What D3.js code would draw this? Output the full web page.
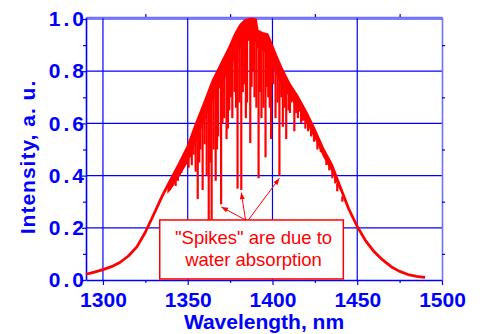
<!DOCTYPE html>
<html>
<head>
<meta charset="utf-8">
<script src="https://cdn.jsdelivr.net/npm/d3@7"></script>
<style>
  body { margin: 0; background: #fff; }
  svg { display: block; font-family: Arial, "Liberation Sans", sans-serif; }
</style>
</head>
<body>
<div id="chart"></div>
<script>
// upper edge of the spectrum [wavelength nm, intensity]
const envelope = [
  [1290, 0.022], [1295, 0.030], [1300, 0.040], [1305, 0.051], [1310, 0.067],
  [1315, 0.092], [1320, 0.127], [1325, 0.183], [1330, 0.252], [1335, 0.322],
  [1340, 0.385], [1345, 0.445], [1350, 0.510], [1355, 0.598], [1360, 0.680],
  [1365, 0.765], [1370, 0.830], [1375, 0.895], [1378, 0.940], [1381, 0.975],
  [1384, 0.995], [1387, 1.000], [1390, 0.998], [1391, 0.955], [1394, 0.945],
  [1397, 0.940], [1399.5, 0.900], [1402, 0.860], [1405, 0.815], [1410, 0.750],
  [1415, 0.700], [1420, 0.640], [1425, 0.573], [1430, 0.500], [1435, 0.440],
  [1440, 0.355], [1445, 0.272], [1450, 0.205], [1455, 0.150], [1460, 0.108],
  [1465, 0.077], [1470, 0.051], [1475, 0.033], [1480, 0.021], [1485, 0.014],
  [1490, 0.010]
];

// dense fine structure just under the top edge [wavelength, top, bottom]
const band = [
  [1338, 0.36, 0.33], [1340, 0.385, 0.345], [1345, 0.445, 0.395], [1350, 0.51, 0.45],
  [1355, 0.598, 0.53], [1360, 0.68, 0.61], [1365, 0.765, 0.69], [1370, 0.83, 0.75],
  [1375, 0.895, 0.81], [1378, 0.94, 0.85], [1381, 0.975, 0.89], [1384, 0.995, 0.91],
  [1387, 1.0, 0.92], [1390, 0.998, 0.91], [1391, 0.955, 0.89], [1394, 0.945, 0.88],
  [1397, 0.94, 0.86], [1399.5, 0.90, 0.83], [1402, 0.86, 0.79], [1405, 0.815, 0.75],
  [1410, 0.75, 0.70], [1415, 0.70, 0.655], [1420, 0.64, 0.60], [1425, 0.573, 0.54],
  [1430, 0.50, 0.47], [1435, 0.44, 0.415], [1440, 0.355, 0.34]
];

// water absorption lines [wavelength, top, bottom]
const spikes = [
  [1342.9, 0.40, 0.36], [1344.2, 0.42, 0.38], [1345.3, 0.44, 0.40], [1346.2, 0.45, 0.41],
  [1347.1, 0.47, 0.43], [1348.0, 0.48, 0.44], [1349.0, 0.49, 0.455], [1350.5, 0.51, 0.43],
  [1351.5, 0.53, 0.47], [1352.4, 0.55, 0.44], [1353.5, 0.57, 0.48], [1354.7, 0.59, 0.415],
  [1355.9, 0.61, 0.31], [1356.8, 0.62, 0.45], [1357.5, 0.64, 0.50], [1358.8, 0.66, 0.345],
  [1360.0, 0.67, 0.52], [1361.2, 0.69, 0.40], [1362.4, 0.71, 0.225], [1363.3, 0.72, 0.45],
  [1364.1, 0.74, 0.225], [1365.3, 0.75, 0.50], [1366.5, 0.77, 0.38], [1367.3, 0.78, 0.50],
  [1368.0, 0.79, 0.55], [1369.7, 0.81, 0.29], [1370.5, 0.82, 0.60], [1371.5, 0.84, 0.62],
  [1372.9, 0.85, 0.54], [1373.7, 0.86, 0.58], [1374.5, 0.87, 0.65], [1375.5, 0.88, 0.70],
  [1376.3, 0.89, 0.62], [1377.6, 0.90, 0.72], [1378.5, 0.92, 0.66], [1379.4, 0.93, 0.35],
  [1380.5, 0.94, 0.68], [1381.6, 0.95, 0.345], [1382.5, 0.96, 0.72], [1383.5, 0.97, 0.75],
  [1384.3, 0.97, 0.62], [1385.0, 0.98, 0.68], [1386.9, 0.99, 0.525], [1387.7, 0.99, 0.74],
  [1388.5, 0.99, 0.80], [1389.4, 0.99, 0.70], [1390.5, 0.97, 0.66], [1391.8, 0.95, 0.39],
  [1392.7, 0.94, 0.72], [1393.5, 0.94, 0.62], [1394.7, 0.94, 0.66], [1395.9, 0.93, 0.47],
  [1396.7, 0.93, 0.74], [1397.5, 0.92, 0.70], [1398.4, 0.91, 0.66], [1399.2, 0.89, 0.54],
  [1400.5, 0.87, 0.75], [1401.8, 0.86, 0.62], [1403.0, 0.84, 0.68], [1404.1, 0.82, 0.40],
  [1405.2, 0.80, 0.70], [1406.1, 0.79, 0.587], [1407.2, 0.78, 0.66], [1408.1, 0.77, 0.54],
  [1409.5, 0.75, 0.65], [1410.3, 0.74, 0.64], [1411.0, 0.73, 0.68], [1412.9, 0.71, 0.57],
  [1414.0, 0.70, 0.64], [1415.0, 0.69, 0.62], [1416.9, 0.67, 0.60], [1418.0, 0.65, 0.61],
  [1419.4, 0.63, 0.58], [1421.0, 0.61, 0.57], [1422.8, 0.59, 0.55], [1424.5, 0.57, 0.53],
  [1426.5, 0.55, 0.50], [1428.5, 0.52, 0.49], [1431.8, 0.47, 0.44], [1433.5, 0.45, 0.42],
  [1435.3, 0.42, 0.39], [1437.0, 0.40, 0.37], [1438.2, 0.37, 0.34], [1441.2, 0.32, 0.30]
];

const xTicks = [1300, 1350, 1400, 1450, 1500];
const xMinor = [1325, 1375, 1425, 1475];
const yTicks = [0, 0.2, 0.4, 0.6, 0.8, 1.0];
const yMinor = [0.1, 0.3, 0.5, 0.7, 0.9];

const noteLines = ['"Spikes" are due to', 'water absorption'];
const noteBox = [1333.5, 1441.8, 0.004, 0.23]; // x0, x1, y0, y1 in data units
// arrows [fromX, fromY, toX, toY]
const arrows = [
  [1384.1, 0.23, 1369.8, 0.28],
  [1384.1, 0.23, 1381.6, 0.335],
  [1385.8, 0.23, 1404.1, 0.39]
];

const width = 480, height = 334;
const mLeft = 86, mRight = 442, mTop = 17, mBottom = 280;
const blue = '#0000ff', red = '#ff0000';

const svg = d3.select('#chart').append('svg')
  .attr('width', width)
  .attr('height', height);

const x = d3.scaleLinear().domain([1290, 1500]).range([mLeft, mRight]);
const y = d3.scaleLinear().domain([0, 1.0077]).range([mBottom, mTop]);

// grid
const grid = svg.append('g').attr('stroke', blue).attr('stroke-width', 1.2);
grid.selectAll('.gx')
  .data(xTicks.filter(d => d < 1500))
  .join('line')
  .attr('x1', d => x(d)).attr('x2', d => x(d))
  .attr('y1', mBottom).attr('y2', mTop);
grid.selectAll('.gy')
  .data(yTicks.filter(d => d > 0))
  .join('line')
  .attr('x1', mLeft).attr('x2', mRight)
  .attr('y1', d => y(d)).attr('y2', d => y(d));

// axes
function styleAxis(g, domainColor) {
  g.attr('font-size', 21).attr('font-family', 'Arial, "Liberation Sans", sans-serif').attr('font-weight', 'bold');
  g.select('.domain').attr('stroke', domainColor).attr('stroke-width', 1.6);
  g.selectAll('.tick line').attr('stroke', blue).attr('stroke-width', 1.2);
  g.selectAll('.tick text').attr('fill', blue);
}

svg.append('g')
  .attr('transform', `translate(0,${mBottom})`)
  .call(d3.axisBottom(x).tickValues(xTicks).tickSize(5).tickSizeOuter(0).tickPadding(7).tickFormat(d3.format('d')))
  .call(g => styleAxis(g, blue));
svg.append('g')
  .attr('transform', `translate(0,${mBottom})`)
  .call(d3.axisBottom(x).tickValues(xMinor).tickSize(3).tickFormat(''))
  .call(g => { styleAxis(g, blue); g.select('.domain').remove(); });

svg.append('g')
  .attr('transform', `translate(${mLeft},0)`)
  .call(d3.axisLeft(y).tickValues(yTicks).tickSize(4).tickSizeOuter(0).tickPadding(-5).tickFormat(d3.format('.1f')))
  .call(g => { styleAxis(g, blue); g.selectAll('.tick text').style('letter-spacing', '3px'); });
svg.append('g')
  .attr('transform', `translate(${mLeft},0)`)
  .call(d3.axisLeft(y).tickValues(yMinor).tickSize(3).tickFormat(''))
  .call(g => { styleAxis(g, blue); g.select('.domain').remove(); });

svg.append('g')
  .attr('transform', `translate(0,${mTop})`)
  .call(d3.axisTop(x).tickValues(xMinor).tickSize(3).tickSizeOuter(0).tickFormat(''))
  .call(g => styleAxis(g, '#7070ff'));
svg.append('g')
  .attr('transform', `translate(${mRight},0)`)
  .call(d3.axisRight(y).tickValues(yMinor).tickSize(3).tickSizeOuter(0).tickFormat(''))
  .call(g => styleAxis(g, '#7070ff'));

// spectrum
svg.append('path')
  .datum(band)
  .attr('fill', red)
  .attr('d', d3.area().x(d => x(d[0])).y0(d => y(d[2])).y1(d => y(d[1])));

svg.append('g')
  .attr('stroke', red)
  .attr('stroke-width', 2.2)
  .selectAll('line')
  .data(spikes)
  .join('line')
  .attr('x1', d => x(d[0])).attr('x2', d => x(d[0]))
  .attr('y1', d => y(d[1])).attr('y2', d => y(d[2]));

svg.append('path')
  .datum(envelope)
  .attr('fill', 'none')
  .attr('stroke', red)
  .attr('stroke-width', 2.8)
  .attr('stroke-linejoin', 'round')
  .attr('d', d3.line().x(d => x(d[0])).y(d => y(d[1])));

// annotation
const bx0 = x(noteBox[0]), bx1 = x(noteBox[1]);
const by0 = y(noteBox[3]), by1 = y(noteBox[2]);
svg.append('rect')
  .attr('x', bx0).attr('y', by0)
  .attr('width', bx1 - bx0).attr('height', by1 - by0)
  .attr('fill', '#fff')
  .attr('stroke', red)
  .attr('stroke-width', 1.5);

svg.selectAll('.note')
  .data(noteLines)
  .join('text')
  .attr('class', 'note')
  .attr('x', (bx0 + bx1) / 2 + 2)
  .attr('y', (d, i) => by0 + 24 + i * 22.5)
  .attr('text-anchor', 'middle')
  .attr('fill', red)
  .style('font-size', '18.5px')
  .text(d => d);

svg.append('defs').append('marker')
  .attr('id', 'head')
  .attr('viewBox', '0 0 8 6')
  .attr('refX', 8).attr('refY', 3)
  .attr('markerWidth', 7).attr('markerHeight', 5)
  .attr('orient', 'auto')
  .append('path')
  .attr('d', 'M0,0 L8,3 L0,6 Z')
  .attr('fill', red);

svg.append('g')
  .attr('stroke', red)
  .attr('stroke-width', 1)
  .selectAll('line')
  .data(arrows)
  .join('line')
  .attr('x1', d => x(d[0])).attr('y1', d => y(d[1]))
  .attr('x2', d => x(d[2])).attr('y2', d => y(d[3]))
  .attr('marker-end', 'url(#head)');

// axis titles
svg.append('text')
  .attr('x', (mLeft + mRight) / 2)
  .attr('y', 329)
  .attr('text-anchor', 'middle')
  .attr('fill', blue)
  .style('font-size', '21px')
  .style('font-weight', 'bold')
  .text('Wavelength, nm');

svg.append('text')
  .attr('transform', `translate(35,157) rotate(-90)`)
  .attr('text-anchor', 'middle')
  .attr('fill', blue)
  .style('font-size', '21px')
  .style('font-weight', 'bold')
  .style('letter-spacing', '1px')
  .text('Intensity, a. u.');
</script>
</body>
</html>
